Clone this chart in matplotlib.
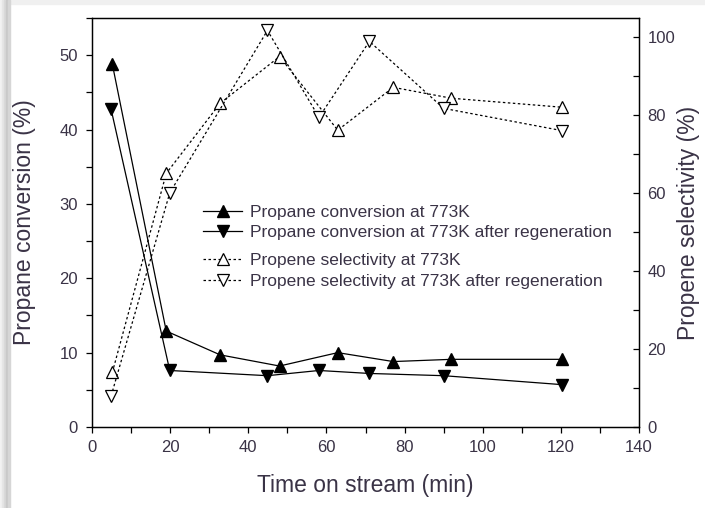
import matplotlib
matplotlib.use("Agg")
import matplotlib.pyplot as plt
from matplotlib.patches import Rectangle
from matplotlib.ticker import MultipleLocator

plt.rcParams['font.family'] = ['Liberation Sans', 'DejaVu Sans']

# --- Data ---
t_conv = [5.2, 19.0, 32.8, 48.0, 62.9, 77.1, 92.0, 120.2]
conv = [48.8, 12.9, 9.7, 8.2, 10.0, 8.8, 9.1, 9.1]

t_conv_regen = [4.9, 19.9, 44.9, 58.1, 71.0, 90.0, 120.2]
conv_regen = [42.7, 7.6, 6.9, 7.6, 7.2, 6.9, 5.7]

t_sel = [5.2, 19.0, 32.8, 48.0, 62.9, 77.1, 92.0, 120.2]
sel = [14.0, 65.1, 83.1, 95.1, 76.2, 87.2, 84.4, 82.1]

t_sel_regen = [4.9, 19.9, 44.9, 58.1, 71.0, 90.0, 120.2]
sel_regen = [8.0, 60.1, 101.8, 79.5, 99.0, 81.8, 76.1]

labels = ["Propane conversion at 773K",
          "Propane conversion at 773K after regeneration",
          "Propene selectivity at 773K",
          "Propene selectivity at 773K after regeneration"]

txt = '#3a3346'
W, H = 705, 508

fig = plt.figure(figsize=(W / 100, H / 100), dpi=100)
fig.patch.set_facecolor('white')

# screenshot frame: light top band and shadow on the left
fig.patches.append(Rectangle((0, 504 / H), 1, 4 / H, transform=fig.transFigure,
                             color='#f0f0f0', zorder=-10))
for x0, c in [(0, '#f2f2f2'), (2, '#e6e6e6'), (4, '#d9d9d9'), (6, '#c9c9c9'), (8, '#d6d6d6')]:
    fig.patches.append(Rectangle((x0 / W, 0), 2 / W, 1, transform=fig.transFigure,
                                 color=c, zorder=-10))

ax = fig.add_axes([92 / W, 1 - 427 / H, (639 - 92) / W, (427 - 18) / H])
ax2 = ax.twinx()

dots = (0, (2, 2))
h1, = ax.plot(t_conv, conv, '-', color='black', lw=0.9, marker='^', ms=8,
              mfc='black', mec='black')
h2, = ax.plot(t_conv_regen, conv_regen, '-', color='black', lw=0.9, marker='v', ms=8,
              mfc='black', mec='black')
h3, = ax2.plot(t_sel, sel, linestyle=dots, color='black', lw=0.9, marker='^', ms=8,
               mfc='white', mec='black', mew=0.9)
h4, = ax2.plot(t_sel_regen, sel_regen, linestyle=dots, color='black', lw=0.9, marker='v', ms=8,
               mfc='white', mec='black', mew=0.9)

ax.set_xlim(0, 140)
ax.set_ylim(0, 55)
ax2.set_ylim(0, 105)

ax.xaxis.set_major_locator(MultipleLocator(20))
ax.xaxis.set_minor_locator(MultipleLocator(10))
ax.yaxis.set_major_locator(MultipleLocator(10))
ax.yaxis.set_minor_locator(MultipleLocator(5))
ax2.yaxis.set_major_locator(MultipleLocator(20))
ax2.yaxis.set_minor_locator(MultipleLocator(10))

for a in (ax, ax2):
    for s in a.spines.values():
        s.set_linewidth(0.9)
ax.tick_params(axis='both', which='both', direction='out', width=0.9,
               labelsize=12, labelcolor=txt, pad=5)
ax.tick_params(which='major', length=4.5)
ax.tick_params(which='minor', length=4)
ax.tick_params(axis='y', pad=5.5)
ax2.tick_params(axis='y', which='both', direction='in', width=0.9,
                labelsize=12, labelcolor=txt, pad=6)
ax2.tick_params(which='major', length=4.5)
ax2.tick_params(which='minor', length=4)

ax.set_xlabel("Time on stream (min)", fontsize=16.5, color=txt)
ax.set_ylabel("Propane conversion (%)", fontsize=16.5, color=txt)
ax2.set_ylabel("Propene selectivity (%)", fontsize=16.5, color=txt, rotation=90)
ax.xaxis.set_label_coords(0.5, -0.142)
ax.xaxis.label.set_va('center')
ax.yaxis.set_label_coords(-0.1225, 0.5)
ax.yaxis.label.set_va('center')
ax2.yaxis.set_label_coords(1.0896, 0.5)
ax2.yaxis.label.set_va('center')

leg_kw = dict(frameon=False, fontsize=12.5, handlelength=2.25, handletextpad=0.45,
              labelspacing=0.32, borderpad=0, borderaxespad=0, labelcolor=txt,
              loc='upper left')
leg1 = fig.legend([h1, h2], labels[:2], bbox_to_anchor=(203 / W, 1 - 204.5 / H), **leg_kw)
leg2 = fig.legend([h3, h4], labels[2:], bbox_to_anchor=(203 / W, 1 - 253 / H), **leg_kw)

fig.savefig("out.png", dpi=100)
